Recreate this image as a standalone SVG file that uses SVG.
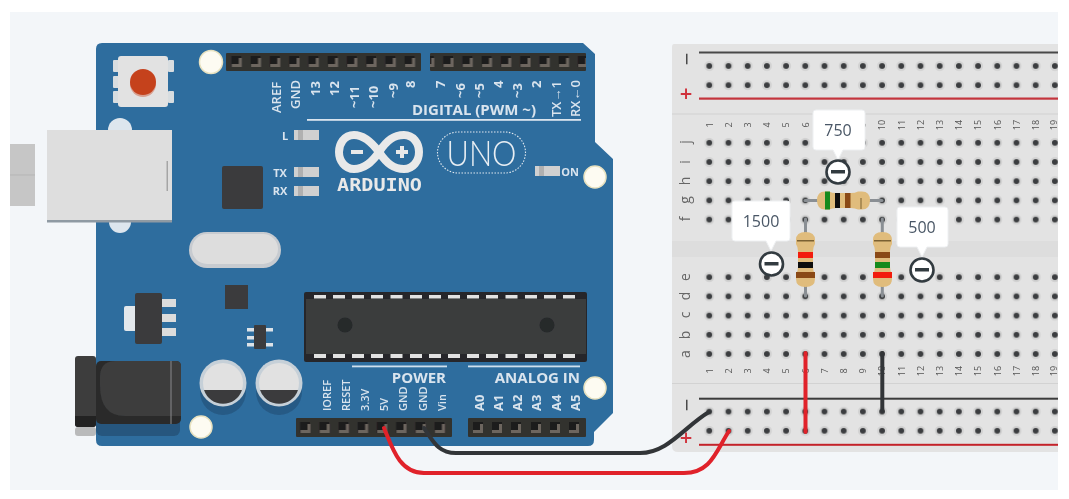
<svg xmlns="http://www.w3.org/2000/svg" width="1069" height="499" viewBox="0 0 1069 499">
<style>
text{font-family:"Open Sans","Liberation Sans",sans-serif}
.pin{font-size:13px;font-weight:600;fill:#d9e4ee;text-anchor:start}
.pins{font-size:11px;font-weight:600;fill:#d9e4ee;text-anchor:start}
.pinb{font-size:13px;font-weight:700;fill:#d9e4ee;text-anchor:start}
.sec{font-size:15px;font-weight:700;fill:#d9e4ee}
.num{font-size:9px;fill:#555;text-anchor:middle}
.let{font-size:14px;fill:#666;text-anchor:middle}
.cal{font-size:16px;fill:#4a5766;text-anchor:middle}
.led{fill:#d0d0d0}
.ledl{font-size:11px;font-weight:700;fill:#d9e4ee;text-anchor:middle}
.hdr{fill:#33312f}
.chip{fill:#3a3b3d}
.body{fill:#e0bc7c}
.lead{stroke:#8a8f94;stroke-width:3;fill:none;stroke-linecap:round}
.wire{fill:none;stroke-width:4;stroke-linecap:round;stroke-linejoin:round}
.bubble{fill:#fff;stroke:#eef0f2;stroke-width:1}
.knob{fill:#fff;stroke:#333a40;stroke-width:2.6}
.mark{font-size:22px;fill:#444;text-anchor:middle}
.plus{font-size:22px;font-weight:600;fill:#d0323c;text-anchor:middle}
</style>
<defs>
<filter id="soft" x="-2%" y="-2%" width="104%" height="104%"><feGaussianBlur stdDeviation="0.55"/></filter>
<pattern id="holes" patternUnits="userSpaceOnUse" x="699.7" y="56.4" width="19.2" height="19.2">
<circle cx="9.6" cy="9.6" r="5" fill="#d2d2d2"/><circle cx="9.6" cy="9.6" r="2.9" fill="#3b3d3f"/>
</pattern>
<pattern id="sock" patternUnits="userSpaceOnUse" x="226.8" y="0" width="19.25" height="499">
<rect x="4.5" y="56" width="10" height="11" fill="#1f1e1d"/><path d="M5 67h10v-9h-3v6h-7z" fill="#6d665f"/>
</pattern>
<pattern id="sockb" patternUnits="userSpaceOnUse" x="295.5" y="0" width="19.2" height="499">
<rect x="4.5" y="422" width="10" height="11" fill="#1f1e1d"/><path d="M5 433h10v-9h-3v6h-7z" fill="#6d665f"/>
</pattern>
</defs>
<rect width="1069" height="499" fill="#fff"/>
<rect x="10" y="12" width="1048" height="478" fill="#f3f6f9"/>
<g filter="url(#soft)">
<g id="arduino">
<rect x="10" y="144" width="25" height="62" fill="#c6c6c6"/>
<path d="M10 175H35" stroke="#b5b5b5"/>
<path d="M102 43H583L595 54V142L613 159V413L594 432V440Q594 446 588 446H102Q96 446 96 440V49Q96 43 102 43Z" fill="#2f6d9e"/>
<rect x="75" y="427" width="21" height="9" rx="3" fill="#b9babb"/>
<circle cx="211" cy="62" r="11.5" fill="#fdfbf2" stroke="#e8e2c0" stroke-width="1.5"/>
<circle cx="595" cy="177" r="11" fill="#fdfbf2" stroke="#e8e2c0" stroke-width="1.5"/>
<circle cx="595" cy="388" r="11" fill="#fdfbf2" stroke="#e8e2c0" stroke-width="1.5"/>
<circle cx="201" cy="427" r="11" fill="#fdfbf2" stroke="#e8e2c0" stroke-width="1.5"/>
<g id="reset-button">
<rect x="113" y="60" width="6" height="12" rx="1" fill="#d8dde0"/><rect x="113" y="76" width="6" height="12" rx="1" fill="#d8dde0"/><rect x="113" y="91" width="6" height="12" rx="1" fill="#d8dde0"/>
<rect x="168" y="60" width="6" height="12" rx="1" fill="#d8dde0"/><rect x="168" y="91" width="6" height="12" rx="1" fill="#d8dde0"/>
<rect x="118" y="56" width="50" height="51" rx="3" fill="#e2e2e2"/>
<circle cx="143" cy="84" r="13" fill="#d8a090"/><circle cx="143" cy="82" r="13" fill="#c5421f"/>
</g>
<g id="usb">
<circle cx="120" cy="130" r="12" fill="#dde6ee"/><circle cx="120" cy="222" r="11" fill="#dde6ee"/>
<rect x="47" y="130" width="125" height="92" fill="#dedede"/>
<rect x="47" y="220" width="125" height="2.5" fill="#8f9aa3"/>
<rect x="166.5" y="161" width="1.5" height="30" fill="#a5a5a5"/>
</g>
<rect class="chip" x="222" y="166" width="41" height="43" rx="2"/>
<g id="crystal"><rect x="189" y="232" width="92" height="36" rx="18" fill="#c7cbd0"/><rect x="192" y="234" width="86" height="30" rx="15" fill="#dddddd"/></g>
<g id="leds">
<rect class="led" x="294" y="130" width="25" height="10"/><rect class="led" x="294" y="167" width="25" height="10"/><rect class="led" x="294" y="186" width="25" height="10"/><rect class="led" x="535" y="166" width="25" height="10"/>
<rect x="298" y="130" width="5" height="10" fill="#b0b0b0"/><rect x="298" y="167" width="5" height="10" fill="#b0b0b0"/><rect x="298" y="186" width="5" height="10" fill="#b0b0b0"/><rect x="539" y="166" width="5" height="10" fill="#b0b0b0"/>
<text class="ledl" x="285" y="140">L</text>
<text class="ledl" x="280" y="177">TX</text>
<text class="ledl" x="280" y="195">RX</text>
<text class="ledl" x="570" y="176">ON</text>
</g>
<g id="top-headers">
<rect class="hdr" x="226" y="53" width="195" height="18" rx="1"/><rect class="hdr" x="430" y="53" width="156" height="18" rx="1"/>
<rect x="226" y="53" width="195" height="18" fill="url(#sock)"/><rect x="430" y="53" width="156" height="18" fill="url(#sock)"/>
</g>
<g id="top-labels">
<text class="pin" transform="translate(281 113) rotate(-90)">AREF</text>
<text class="pin" transform="translate(300 109) rotate(-90)">GND</text>
<text class="pinb" transform="translate(320 96) rotate(-90)">13</text>
<text class="pinb" transform="translate(339 96) rotate(-90)">12</text>
<text class="pinb" transform="translate(359 108) rotate(-90)">~11</text>
<text class="pinb" transform="translate(378 108) rotate(-90)">~10</text>
<text class="pinb" transform="translate(398 98) rotate(-90)">~9</text>
<text class="pinb" transform="translate(415 88) rotate(-90)">8</text>
<text class="pinb" transform="translate(445 88) rotate(-90)">7</text>
<text class="pinb" transform="translate(465 98) rotate(-90)">~6</text>
<text class="pinb" transform="translate(484 98) rotate(-90)">~5</text>
<text class="pinb" transform="translate(503 88) rotate(-90)">4</text>
<text class="pinb" transform="translate(522 98) rotate(-90)">~3</text>
<text class="pinb" transform="translate(541 88) rotate(-90)">2</text>
<text class="pin" transform="translate(561 117) rotate(-90)">TX→1</text>
<text class="pin" transform="translate(580 117) rotate(-90)">RX←0</text>
<text class="sec" x="536" y="115" text-anchor="end">DIGITAL (PWM ~)</text>
<rect x="307" y="119" width="274" height="1.8" fill="#d9e4ee"/>
</g>
<g id="logo">
<path d="M379 152C370 140 362 135 354 135C344 135 339 144 339 152C339 161 345 169 354 169C363 169 371 164 379 152C387 140 394 135 404 135C413 135 419 143 419 152C419 161 413 169 404 169C394 169 387 164 379 152Z" fill="none" stroke="#e9e9e9" stroke-width="8"/>
<rect x="351" y="150" width="12" height="4" fill="#e9e9e9"/>
<rect x="396" y="150" width="12" height="4" fill="#e9e9e9"/><rect x="400" y="146" width="4" height="12" fill="#e9e9e9"/>
<text x="379.5" y="191" font-size="17" font-weight="700" fill="#e9e9e9" text-anchor="middle" style="font-family:'DejaVu Sans Mono','Liberation Mono',monospace" textLength="85" lengthAdjust="spacingAndGlyphs">ARDUINO</text>
<rect x="437.5" y="132" width="88" height="41" rx="20.5" fill="none" stroke="#dfe8ef" stroke-width="1.1" stroke-dasharray="1.5 1.5"/>
<text x="481.5" y="166" font-size="36" fill="#e8eef3" text-anchor="middle" style="font-family:Lato,'Liberation Sans',sans-serif;font-weight:300" textLength="70" lengthAdjust="spacingAndGlyphs">UNO</text>
</g>
<g id="regulator">
<rect x="124" y="306" width="14" height="25" rx="2" fill="#e3e8ec"/>
<rect x="160" y="299" width="16" height="8" fill="#dcdcdc"/><rect x="160" y="314" width="16" height="8" fill="#dcdcdc"/><rect x="160" y="328" width="16" height="8" fill="#dcdcdc"/>
<rect class="chip" x="135" y="293" width="27" height="51" rx="2"/>
</g>
<rect class="chip" x="225" y="285" width="23" height="24"/>
<g id="small-ic">
<rect x="247" y="328" width="26" height="3.5" fill="#dde3e8"/><rect x="247" y="336" width="7" height="3.5" fill="#dde3e8"/><rect x="247" y="343" width="26" height="3.5" fill="#dde3e8"/>
<rect class="chip" x="254" y="325" width="12" height="24" rx="1"/>
</g>
<g id="dc-jack">
<rect x="96" y="400" width="84" height="36" rx="6" fill="#27577e"/>
<rect x="96" y="361" width="85" height="63" rx="5" fill="#2b2b2b"/>
<path d="M116 361H171V416H125Q100 416 100 385V377Q100 361 116 361Z" fill="#3c3d3e"/>
<path d="M171 361H176Q181 361 181 366V416H171Z" fill="#3c3d3e"/>
<rect x="170.5" y="361" width="1" height="63" fill="#8c8c8c"/>
<rect x="75" y="356" width="21" height="71" rx="3" fill="#3c3d3e"/>
<path d="M75 416H96V424Q96 427 93 427H78Q75 427 75 424Z" fill="#222"/>
</g>
<g id="capacitors">
<circle cx="223" cy="392" r="23" fill="#275a85"/><circle cx="279" cy="392" r="23" fill="#275a85"/>
<circle cx="223" cy="383" r="23.5" fill="#c6d0d8"/><circle cx="279" cy="383" r="23.5" fill="#c6d0d8"/>
<circle cx="223" cy="383" r="20" fill="#e1e1e1"/><circle cx="279" cy="383" r="20" fill="#e1e1e1"/>
<path d="M204 390H242A20 20 0 0 1 204 390Z" fill="#3a3b3d"/><path d="M260 390H298A20 20 0 0 1 260 390Z" fill="#3a3b3d"/>
</g>
<g id="mcu">
<rect x="304" y="292" width="283" height="70" rx="2" fill="#25282b"/>
<rect x="306" y="299" width="280" height="55" fill="#3b3c3e"/>
<g fill="#e2e2e2">
<path d="M314 295h12v3.5h-12zM333 295h12v3.5h-12zM352 295h12v3.5h-12zM371 295h12v3.5h-12zM390.5 295h12v3.5h-12zM410 295h12v3.5h-12zM429 295h12v3.5h-12zM448 295h12v3.5h-12zM467 295h12v3.5h-12zM486 295h12v3.5h-12zM505.5 295h12v3.5h-12zM525 295h12v3.5h-12zM544 295h12v3.5h-12zM563 295h12v3.5h-12z"/>
<path d="M314 354h12v4h-12zM333 354h12v4h-12zM352 354h12v4h-12zM371 354h12v4h-12zM390.5 354h12v4h-12zM410 354h12v4h-12zM429 354h12v4h-12zM448 354h12v4h-12zM467 354h12v4h-12zM486 354h12v4h-12zM505.5 354h12v4h-12zM525 354h12v4h-12zM544 354h12v4h-12zM563 354h12v4h-12z"/>
</g>
<circle cx="345" cy="325" r="7.5" fill="#27292b"/><circle cx="547" cy="325" r="7.5" fill="#27292b"/>
</g>
<g id="bottom-headers">
<rect class="hdr" x="296" y="418" width="156" height="19" rx="1"/><rect class="hdr" x="468" y="418" width="118" height="19" rx="1"/>
<rect x="296" y="418" width="156" height="19" fill="url(#sockb)"/>
<g fill="#1f1e1d"><rect x="473" y="422" width="10" height="11"/><rect x="492" y="422" width="10" height="11"/><rect x="511" y="422" width="10" height="11"/><rect x="531" y="422" width="10" height="11"/><rect x="550" y="422" width="10" height="11"/><rect x="569" y="422" width="10" height="11"/></g>
<g fill="#6d665f"><path d="M473 433h10v-9h-3v6h-7z"/><path d="M492 433h10v-9h-3v6h-7z"/><path d="M511 433h10v-9h-3v6h-7z"/><path d="M531 433h10v-9h-3v6h-7z"/><path d="M550 433h10v-9h-3v6h-7z"/><path d="M569 433h10v-9h-3v6h-7z"/></g>
</g>
<g id="bottom-labels">
<rect x="352" y="365.5" width="95" height="1.8" fill="#cfe0ee"/><rect x="468" y="365.5" width="112" height="1.8" fill="#cfe0ee"/>
<text class="sec" x="446" y="383" text-anchor="end">POWER</text>
<text class="sec" x="580" y="383" text-anchor="end">ANALOG IN</text>
<text class="pins" transform="translate(331 411) rotate(-90)">IOREF</text>
<text class="pins" transform="translate(350 411) rotate(-90)">RESET</text>
<text class="pins" transform="translate(369 411) rotate(-90)">3.3V</text>
<text class="pins" transform="translate(388 411) rotate(-90)">5V</text>
<text class="pins" transform="translate(407 411) rotate(-90)">GND</text>
<text class="pins" transform="translate(427 411) rotate(-90)">GND</text>
<text class="pins" transform="translate(446 411) rotate(-90)">Vin</text>
<text class="pinb" transform="translate(484 411) rotate(-90)">A0</text>
<text class="pinb" transform="translate(503 411) rotate(-90)">A1</text>
<text class="pinb" transform="translate(522 411) rotate(-90)">A2</text>
<text class="pinb" transform="translate(541 411) rotate(-90)">A3</text>
<text class="pinb" transform="translate(561 411) rotate(-90)">A4</text>
<text class="pinb" transform="translate(580 411) rotate(-90)">A5</text>
</g>
</g>
<g id="breadboard">
<path d="M674 44H1058V452H678Q672 452 672 446V47Q672 44 674 44Z" fill="#e3e3e3"/>
<rect x="672" y="241" width="386" height="16" fill="#dddddd"/>
<rect x="672" y="113.5" width="386" height="1" fill="#d2d2d2"/>
<rect x="672" y="383" width="386" height="1" fill="#d2d2d2"/>
<rect x="699" y="51.5" width="359" height="2" fill="#4a4a4a"/>
<rect x="699" y="397.7" width="359" height="2" fill="#3a3a3a"/>
<rect x="699" y="97.5" width="359" height="2.2" fill="#c4343c"/>
<rect x="699" y="443.8" width="359" height="2" fill="#c4232b"/>
<rect x="700" y="56.4" width="358" height="38.4" fill="url(#holes)"/>
<rect x="700" y="133.2" width="358" height="96" fill="url(#holes)"/>
<rect x="700" y="267.6" width="358" height="96" fill="url(#holes)"/>
<rect x="700" y="402" width="358" height="38.4" fill="url(#holes)"/>
<text class="mark" transform="translate(679 59) rotate(90)">−</text>
<text class="plus" x="686" y="101">+</text>
<text class="mark" transform="translate(679 405) rotate(90)">−</text>
<text class="plus" x="686" y="445">+</text>
<g id="row-letters">
<text class="let" transform="translate(690 142) rotate(-90)">j</text><text class="let" transform="translate(690 162) rotate(-90)">i</text><text class="let" transform="translate(690 181) rotate(-90)">h</text><text class="let" transform="translate(690 200) rotate(-90)">g</text><text class="let" transform="translate(690 219) rotate(-90)">f</text>
<text class="let" transform="translate(690 277) rotate(-90)">e</text><text class="let" transform="translate(690 296) rotate(-90)">d</text><text class="let" transform="translate(690 315) rotate(-90)">c</text><text class="let" transform="translate(690 335) rotate(-90)">b</text><text class="let" transform="translate(690 354) rotate(-90)">a</text>
</g>
<g id="col-top">
<text class="num" transform="translate(712.5 125) rotate(-90)">1</text><text class="num" transform="translate(731.7 125) rotate(-90)">2</text><text class="num" transform="translate(750.9 125) rotate(-90)">3</text><text class="num" transform="translate(770.1 125) rotate(-90)">4</text><text class="num" transform="translate(789.3 125) rotate(-90)">5</text><text class="num" transform="translate(808.5 125) rotate(-90)">6</text><text class="num" transform="translate(827.7 125) rotate(-90)">7</text><text class="num" transform="translate(846.9 125) rotate(-90)">8</text><text class="num" transform="translate(866.1 125) rotate(-90)">9</text><text class="num" transform="translate(885.3 125) rotate(-90)">10</text><text class="num" transform="translate(904.5 125) rotate(-90)">11</text><text class="num" transform="translate(923.7 125) rotate(-90)">12</text><text class="num" transform="translate(942.9 125) rotate(-90)">13</text><text class="num" transform="translate(962.1 125) rotate(-90)">14</text><text class="num" transform="translate(981.3 125) rotate(-90)">15</text><text class="num" transform="translate(1000.5 125) rotate(-90)">16</text><text class="num" transform="translate(1019.7 125) rotate(-90)">17</text><text class="num" transform="translate(1038.9 125) rotate(-90)">18</text><text class="num" transform="translate(1057 125) rotate(-90)">19</text>
</g>
<g id="col-bottom">
<text class="num" transform="translate(712.5 371) rotate(-90)">1</text><text class="num" transform="translate(731.7 371) rotate(-90)">2</text><text class="num" transform="translate(750.9 371) rotate(-90)">3</text><text class="num" transform="translate(770.1 371) rotate(-90)">4</text><text class="num" transform="translate(789.3 371) rotate(-90)">5</text><text class="num" transform="translate(808.5 371) rotate(-90)">6</text><text class="num" transform="translate(827.7 371) rotate(-90)">7</text><text class="num" transform="translate(846.9 371) rotate(-90)">8</text><text class="num" transform="translate(866.1 371) rotate(-90)">9</text><text class="num" transform="translate(885.3 371) rotate(-90)">10</text><text class="num" transform="translate(904.5 371) rotate(-90)">11</text><text class="num" transform="translate(923.7 371) rotate(-90)">12</text><text class="num" transform="translate(942.9 371) rotate(-90)">13</text><text class="num" transform="translate(962.1 371) rotate(-90)">14</text><text class="num" transform="translate(981.3 371) rotate(-90)">15</text><text class="num" transform="translate(1000.5 371) rotate(-90)">16</text><text class="num" transform="translate(1019.7 371) rotate(-90)">17</text><text class="num" transform="translate(1038.9 371) rotate(-90)">18</text><text class="num" transform="translate(1057 371) rotate(-90)">19</text>
</g>
</g>
<g id="connectors">
<path class="wire" stroke="#e0202a" d="M805.5 353V432"/>
<path class="wire" stroke="#333537" d="M882.3 353V411"/>
<path class="wire" stroke="#333537" d="M424 428C433 441 438 453 456 453H640C668 453 685 426 709 412"/>
<path class="wire" stroke="#e0202a" d="M384 428C393 450 400 473 424 473H684C711 473 716 451 729 431"/>
</g>
<g id="resistor-750">
<path class="lead" d="M805 200.5H882"/>
<path class="body" d="M817 200.5Q817 191.500 825 191.500H829Q832 193 836 193H851Q855 193 858 191.500H862Q870 191.500 870 200.5Q870 209.500 862 209.500H858Q855 208 851 208H836Q832 208 829 209.500H825Q817 209.500 817 200.5Z"/>
<rect x="825" y="191.500" width="5" height="18" fill="#178a1e"/>
<rect x="835" y="193" width="5" height="15" fill="#111"/>
<rect x="845" y="193" width="5.500" height="15" fill="#8a4a12"/>
<rect x="860.5" y="198" width="1" height="11" fill="#7a6030"/>
</g>
<g id="resistor-1500">
<path class="lead" d="M805.5 219V296"/>
<path class="body" d="M805.5 232Q815 232 815 240V244Q813 247 813 251V267Q813 271 815 274V279Q815 287 805.5 287Q796 287 796 279V274Q798 271 798 267V251Q798 247 796 244V240Q796 232 805.5 232Z"/>
<rect x="797" y="240" width="17" height="1.5" fill="#7a6030"/>
<rect x="798" y="252" width="15" height="6" fill="#f21c10"/>
<rect x="798" y="262" width="15" height="6" fill="#111"/>
<rect x="796" y="272" width="19" height="6" fill="#8a4a12"/>
</g>
<g id="resistor-500">
<path class="lead" d="M882.3 219V296"/>
<path class="body" d="M882.3 232Q892 232 892 240V244Q890 247 890 251V267Q890 271 892 274V279Q892 287 882.3 287Q873 287 873 279V274Q875 271 875 267V251Q875 247 873 244V240Q873 232 882.3 232Z"/>
<rect x="874" y="240" width="17" height="1.5" fill="#7a6030"/>
<rect x="875" y="252" width="15" height="6" fill="#8a4a12"/>
<rect x="875" y="262" width="15" height="6" fill="#178a1e"/>
<rect x="873" y="272" width="19" height="6" fill="#f21c10"/>
</g>
<g id="callout-750">
<path class="bubble" d="M816 110H862Q865 110 865 113V147Q865 150 862 150H843L838 160L833 150H816Q813 150 813 147V113Q813 110 816 110Z"/>
<text class="cal" x="838" y="136">750</text>
<circle class="knob" cx="838" cy="172" r="11.5"/><rect x="831" y="170" width="14" height="3.5" fill="#333a40"/>
</g>
<g id="callout-1500">
<path class="bubble" d="M735 201H787Q790 201 790 204V238Q790 241 787 241H776L771 251L766 241H735Q732 241 732 238V204Q732 201 735 201Z"/>
<text class="cal" x="761" y="227">1500</text>
<circle class="knob" cx="771.5" cy="264" r="11.5"/><rect x="764.5" y="262" width="14" height="3.5" fill="#333a40"/>
</g>
<g id="callout-500">
<path class="bubble" d="M900 207H945Q948 207 948 210V244Q948 247 945 247H927L922 257L917 247H900Q897 247 897 244V210Q897 207 900 207Z"/>
<text class="cal" x="922" y="233">500</text>
<circle class="knob" cx="922" cy="270" r="11.5"/><rect x="915" y="268" width="14" height="3.5" fill="#333a40"/>
</g>
</g>
</svg>
